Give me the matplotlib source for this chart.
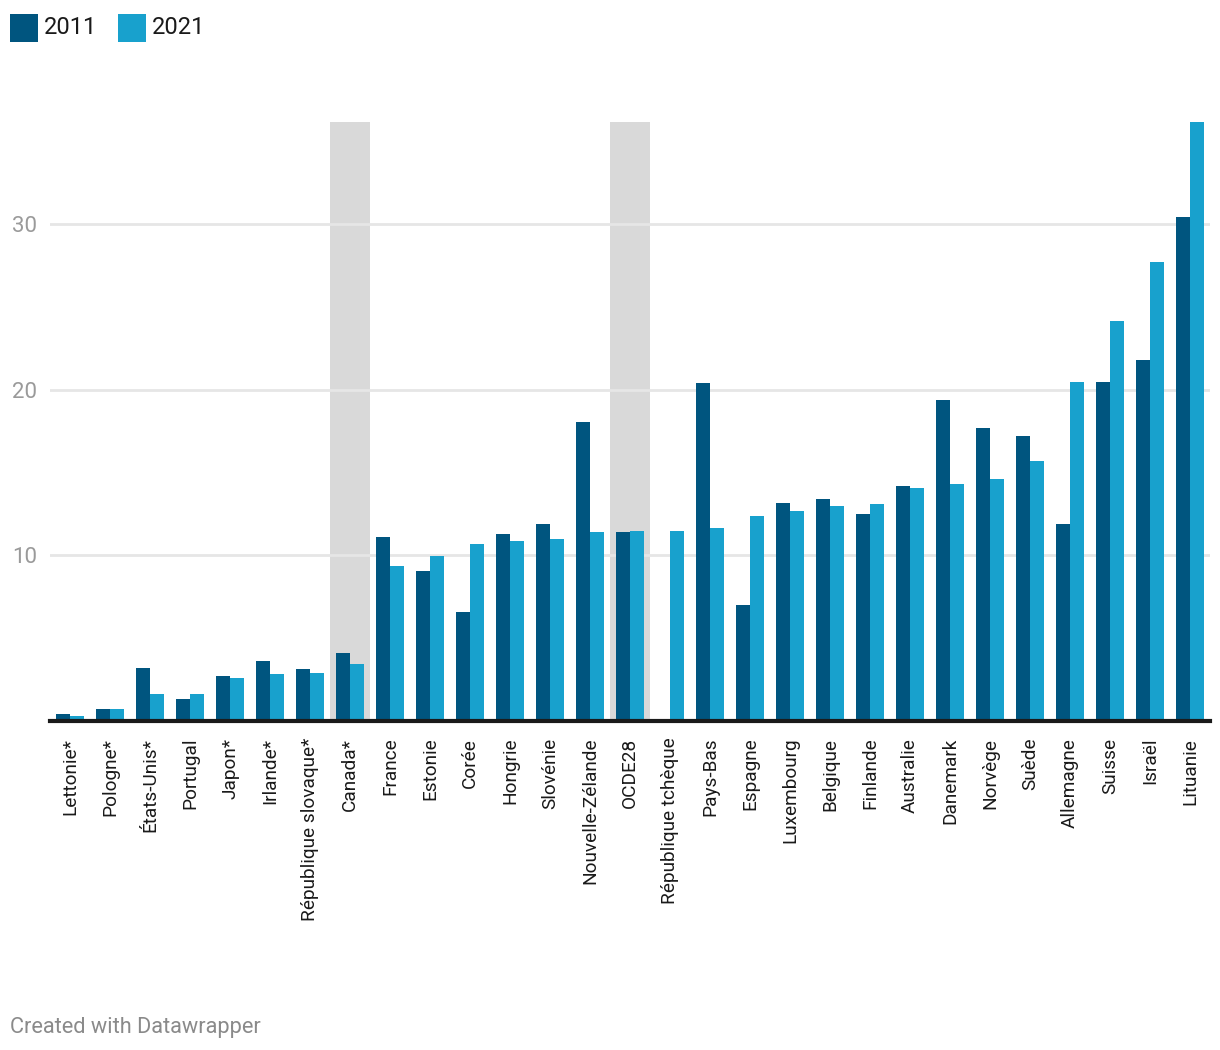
import numpy as np
import matplotlib
matplotlib.use("Agg")
import matplotlib.pyplot as plt
from matplotlib.patches import Rectangle

plt.rcParams['font.family'] = ['Roboto', 'DejaVu Sans']

countries = ["Lettonie*", "Pologne*", "États-Unis*", "Portugal", "Japon*", "Irlande*",
             "République slovaque*", "Canada*", "France", "Estonie", "Corée", "Hongrie",
             "Slovénie", "Nouvelle-Zélande", "OCDE28", "République tchèque", "Pays-Bas",
             "Espagne", "Luxembourg", "Belgique", "Finlande", "Australie", "Danemark",
             "Norvège", "Suède", "Allemagne", "Suisse", "Israël", "Lituanie"]
v2011 = [0.42, 0.72, 3.19, 1.33, 2.71, 3.61, 3.13, 4.10, 11.13, 9.07, 6.59, 11.31,
         11.92, 18.04, 11.43, np.nan, 20.4, 7.03, 13.17, 13.41, 12.51, 14.2, 19.38,
         17.69, 17.21, 11.9, 20.48, 21.79, 30.48]
v2021 = [0.30, 0.72, 1.63, 1.63, 2.59, 2.83, 2.89, 3.43, 9.37, 9.98, 10.71, 10.89,
         11.01, 11.43, 11.49, 11.49, 11.67, 12.39, 12.69, 12.99, 13.11, 14.08, 14.33,
         14.6, 15.71, 20.48, 24.19, 27.76, 36.19]
highlighted = ["Canada*", "OCDE28"]
series = ["2011", "2021"]
yticks = [10, 20, 30]

C_DARK = "#00557f"
C_LIGHT = "#18a1cd"

W, H = 1220, 1050
fig = plt.figure(figsize=(W / 100, H / 100), dpi=100)
ax = fig.add_axes([50 / W, 1 - 721 / H, 1160 / W, 599 / H])

x = np.arange(len(countries))
bw = 0.35
ax.set_xlim(-0.5, len(countries) - 0.5)
ax.set_ylim(0, max(v2021))

for name in highlighted:
    i = countries.index(name)
    ax.axvspan(i - 0.5, i + 0.5, color="#d9d9d9", zorder=0, lw=0)

for t in yticks:
    ax.axhline(t, color="#e6e6e6", lw=2, zorder=0.5)

ax.bar(x - bw / 2, v2011, width=bw, color=C_DARK, zorder=2, linewidth=0)
ax.bar(x + bw / 2, v2021, width=bw, color=C_LIGHT, zorder=2, linewidth=0)

for s in ax.spines.values():
    s.set_visible(False)
ax.axhline(0, color="#1a1a1a", lw=3, zorder=3, clip_on=False)

ax.set_yticks(yticks)
ax.set_yticklabels([str(t) for t in yticks], fontsize=16, color="#9a9a9a")
ax.tick_params(axis="y", length=0, pad=9)
ax.set_xticks(x)
ax.set_xticklabels(countries, rotation=90, fontsize=13.7, color="#1a1a1a",
                   va="top", ha="center")
ax.tick_params(axis="x", length=0, pad=12)

# legend
for xs, col, lab, xt in [(10, C_DARK, series[0], 44), (118, C_LIGHT, series[1], 152)]:
    fig.patches.append(Rectangle((xs / W, 1 - 42 / H), 28 / W, 28 / H,
                                 transform=fig.transFigure, color=col, lw=0))
    fig.text(xt / W, 1 - 28 / H, lab, fontsize=17, color="#1a1a1a",
             ha="left", va="center")

fig.text(10 / W, 1 - 1028 / H, "Created with Datawrapper", fontsize=15.7,
         color="#8a8a8a", ha="left", va="center")

fig.savefig("out.png", dpi=100)
